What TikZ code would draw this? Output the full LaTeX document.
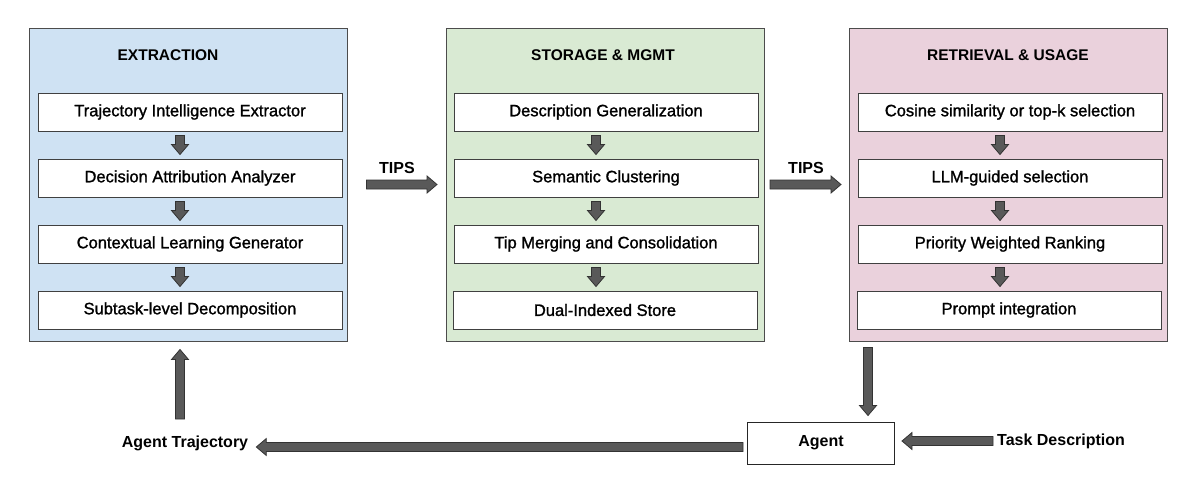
\documentclass[tikz,border=0pt]{standalone}
\usepackage{fontspec}
\setmainfont{Liberation Sans}
\newfontfamily\boxfont[FakeBold=1.3]{Liberation Sans}
\usetikzlibrary{calc}

\definecolor{extractfill}{HTML}{CFE2F3}
\definecolor{storefill}{HTML}{D9EAD3}
\definecolor{retrfill}{HTML}{EAD1DC}

\tikzset{
  panel/.style={draw=black!70, line width=1pt, minimum width=318pt, minimum height=313pt, inner sep=0pt},
  stepbox/.style={draw=black!75, fill=white, line width=1pt, minimum width=304pt, minimum height=38pt, inner sep=0pt, font=\boxfont\fontsize{16.5}{19}\selectfont},
  head/.style={font=\bfseries\fontsize{15.5}{18}\selectfont},
  lbl/.style={font=\bfseries\fontsize{16}{19}\selectfont, inner sep=0pt},
  blockarr/.style={fill=black!65, draw=black!80, line width=0.8pt, line join=miter},
}

% block arrow from #1 to #2 (x unit is 1pt)
\newcommand\blockarrow[2]{%
  \draw[blockarr] let \p1=(#1), \p2=(#2),
    \n1={atan2(\y2-\y1,\x2-\x1)}, \n2={veclen(\x2-\x1,\y2-\y1)} in
    [shift={(\p1)}, rotate=\n1]
    (0,-4.5) -- (\n2-10,-4.5) -- (\n2-10,-8.5) -- (\n2,0)
    -- (\n2-10,8.5) -- (\n2-10,4.5) -- (0,4.5) -- cycle;}

\begin{document}
\begin{tikzpicture}[x=1pt,y=-1pt]
    \useasboundingbox (0,0) rectangle (1200,498);

    % --- EXTRACTION ---
    \node[panel, fill=extractfill] (extract) at (188,184.5) {};
    \node[head] at (168,55) {EXTRACTION};
    \node[stepbox] (e1) at (190,112) {Trajectory Intelligence Extractor};
    \node[stepbox] (e2) at (190,178) {Decision Attribution Analyzer};
    \node[stepbox] (e3) at (190,244) {Contextual Learning Generator};
    \node[stepbox] (e4) at (190,310) {Subtask-level Decomposition};
    \blockarrow{$(e1.south)+(-10,4)$}{$(e2.north)+(-10,-4)$}
    \blockarrow{$(e2.south)+(-10,4)$}{$(e3.north)+(-10,-4)$}
    \blockarrow{$(e3.south)+(-10,4)$}{$(e4.north)+(-10,-4)$}

    % --- STORAGE & MGMT ---
    \node[panel, fill=storefill] (store) at (605.5,184.5) {};
    \node[head] at (603,55) {STORAGE \& MGMT};
    \node[stepbox] (s1) at (606,112) {Description Generalization};
    \node[stepbox] (s2) at (606,178) {Semantic Clustering};
    \node[stepbox] (s3) at (606,244) {Tip Merging and Consolidation};
    \node[stepbox] (s4) at (605,310) {Dual-Indexed Store};
    \blockarrow{$(s1.south)+(-10,4)$}{$(s2.north)+(-10,-4)$}
    \blockarrow{$(s2.south)+(-10,4)$}{$(s3.north)+(-10,-4)$}
    \blockarrow{$(s3.south)+(-10,4)$}{$(s4.north)+(-9,-4)$}

    % --- RETRIEVAL & USAGE ---
    \node[panel, fill=retrfill] (retr) at (1008.5,184.5) {};
    \node[head] at (1008,55) {RETRIEVAL \& USAGE};
    \node[stepbox] (r1) at (1010,112) {Cosine similarity or top-k selection};
    \node[stepbox] (r2) at (1010,178) {LLM-guided selection};
    \node[stepbox] (r3) at (1010,244) {Priority Weighted Ranking};
    \node[stepbox] (r4) at (1009,310) {Prompt integration};
    \blockarrow{$(r1.south)+(-10,4)$}{$(r2.north)+(-10,-4)$}
    \blockarrow{$(r2.south)+(-10,4)$}{$(r3.north)+(-10,-4)$}
    \blockarrow{$(r3.south)+(-10,4)$}{$(r4.north)+(-9,-4)$}

    % --- TIPS hand-over ---
    \blockarrow{$(extract.east)+(19,0)$}{$(store.west)+(-9,0)$}
    \blockarrow{$(store.east)+(5,0)$}{$(retr.west)+(-8,0)$}
    \node[lbl] at (397,168) {TIPS};
    \node[lbl] at (806,168) {TIPS};

    % --- agent loop ---
    \node[draw=black!85, line width=1pt, minimum width=147pt, minimum height=42pt, inner sep=0pt, lbl] (agent) at (821,443) {Agent};
    \node[lbl, anchor=west] (task) at (997,441) {Task Description};
    \node[lbl] (traj) at (185,443) {Agent Trajectory};
    \coordinate (trajtop) at (180,419);
    \blockarrow{$(retr.south west)+(19,6)$}{$(agent.north)+(47,-6)$}
    \blockarrow{$(task.west)+(-4,0)$}{$(agent.east |- task.west)+(7,0)$}
    \blockarrow{$(agent.west)+(-4,4)$}{$(traj.east)+(8,4)$}
    \blockarrow{trajtop}{$(extract.south)+(-8,8)$}
\end{tikzpicture}
\end{document}
